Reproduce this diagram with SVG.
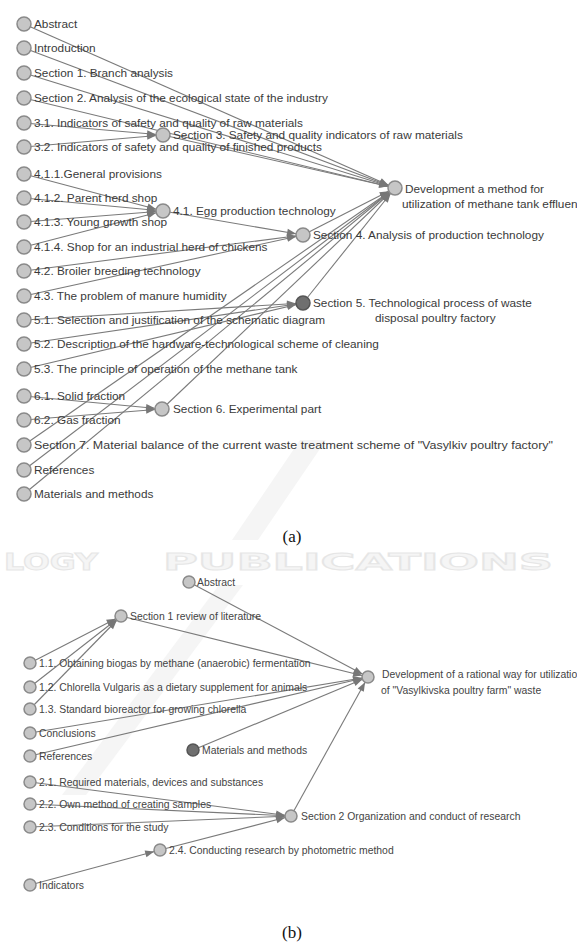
<svg xmlns="http://www.w3.org/2000/svg" width="577" height="942" viewBox="0 0 577 942">
<style>
.e{stroke:#7a7a7a;stroke-width:1.1;fill:none}
.ea{marker-end:url(#arrA)}
.eb{marker-end:url(#arrB)}
.n{fill:#c6c6c6;stroke:#8a8a8a;stroke-width:1.5}
.nd{fill:#6f6f6f;stroke:#555;stroke-width:1.5}
.ta{font-family:"Liberation Sans",Arial,sans-serif;font-size:11.8px;fill:#3a3a3a}
.tb{font-family:"Liberation Sans",Arial,sans-serif;font-size:10.4px;fill:#444}
.cap{font-family:"Liberation Serif","Times New Roman",serif;font-size:17px;fill:#111}
.wm{font-family:"DejaVu Sans",sans-serif;font-weight:bold;fill:#f5f5f5;stroke:#e6e6e6;stroke-width:1}
</style>
<defs>
<marker id="arrA" markerUnits="userSpaceOnUse" markerWidth="20" markerHeight="10" refX="16" refY="3.5" orient="auto" overflow="visible"><path d="M0,0 L9,3.5 L0,7 z" fill="#777"/></marker>
<marker id="arrB" markerUnits="userSpaceOnUse" markerWidth="20" markerHeight="10" refX="15" refY="3.5" orient="auto" overflow="visible"><path d="M0,0 L9,3.5 L0,7 z" fill="#777"/></marker>
</defs>
<rect width="577" height="942" fill="#fff"/>
<g id="watermark">
<polygon points="232,540 258,540 326,440 300,440" fill="#f5f5f5"/>
<polygon points="62,795 86,795 243,585 219,585" fill="#f5f5f5"/>
<text class="wm" x="4" y="570" font-size="23" textLength="94" lengthAdjust="spacingAndGlyphs">LOGY</text>
<text class="wm" x="163" y="570" font-size="23" textLength="390" lengthAdjust="spacingAndGlyphs">PUBLICATIONS</text>
</g>
<g id="connectors">
<line class="e ea" x1="24" y1="24" x2="395" y2="188"/>
<line class="e ea" x1="24" y1="48" x2="395" y2="188"/>
<line class="e ea" x1="24" y1="73" x2="395" y2="188"/>
<line class="e ea" x1="24" y1="98" x2="395" y2="188"/>
<line class="e ea" x1="24" y1="123" x2="163" y2="135"/>
<line class="e ea" x1="24" y1="147" x2="163" y2="135"/>
<line class="e ea" x1="163" y1="135" x2="395" y2="188"/>
<line class="e ea" x1="24" y1="174" x2="163" y2="211"/>
<line class="e ea" x1="24" y1="198" x2="163" y2="211"/>
<line class="e ea" x1="24" y1="222" x2="163" y2="211"/>
<line class="e ea" x1="24" y1="247" x2="163" y2="211"/>
<line class="e ea" x1="163" y1="211" x2="303" y2="235"/>
<line class="e ea" x1="24" y1="271" x2="303" y2="235"/>
<line class="e ea" x1="24" y1="296" x2="303" y2="235"/>
<line class="e ea" x1="303" y1="235" x2="395" y2="188"/>
<line class="e ea" x1="24" y1="320" x2="303" y2="303"/>
<line class="e ea" x1="24" y1="344" x2="303" y2="303"/>
<line class="e ea" x1="24" y1="369" x2="303" y2="303"/>
<line class="e ea" x1="303" y1="303" x2="395" y2="188"/>
<line class="e ea" x1="24" y1="396" x2="162" y2="409"/>
<line class="e ea" x1="24" y1="420" x2="162" y2="409"/>
<line class="e ea" x1="162" y1="409" x2="395" y2="188"/>
<line class="e ea" x1="24" y1="445" x2="395" y2="188"/>
<line class="e ea" x1="24" y1="470" x2="395" y2="188"/>
<line class="e ea" x1="24" y1="494" x2="395" y2="188"/>
<line class="e eb" x1="189" y1="582" x2="368" y2="677"/>
<line class="e eb" x1="121" y1="616" x2="368" y2="677"/>
<line class="e eb" x1="30" y1="663" x2="121" y2="616"/>
<line class="e eb" x1="30" y1="687" x2="121" y2="616"/>
<line class="e eb" x1="30" y1="709" x2="121" y2="616"/>
<line class="e eb" x1="30" y1="733" x2="368" y2="677"/>
<line class="e eb" x1="30" y1="756" x2="368" y2="677"/>
<line class="e eb" x1="193" y1="750" x2="368" y2="677"/>
<line class="e eb" x1="291" y1="816" x2="368" y2="677"/>
<line class="e eb" x1="30" y1="782" x2="291" y2="816"/>
<line class="e eb" x1="30" y1="804" x2="291" y2="816"/>
<line class="e eb" x1="30" y1="827" x2="291" y2="816"/>
<line class="e eb" x1="160" y1="850" x2="291" y2="816"/>
<line class="e eb" x1="30" y1="885" x2="160" y2="850"/>
</g>
<g id="a-abstract"><circle class="n" cx="24" cy="24" r="7"/><text class="ta" x="34" y="28">Abstract</text></g>
<g id="a-introduction"><circle class="n" cx="24" cy="48" r="7"/><text class="ta" x="34" y="52">Introduction</text></g>
<g id="a-s1"><circle class="n" cx="24" cy="73" r="7"/><text class="ta" x="34" y="77">Section 1. Branch analysis</text></g>
<g id="a-s2"><circle class="n" cx="24" cy="98" r="7"/><text class="ta" x="34" y="102">Section 2. Analysis of the ecological state of the industry</text></g>
<g id="a-3-1"><circle class="n" cx="24" cy="123" r="7"/><text class="ta" x="34" y="127">3.1. Indicators of safety and quality of raw materials</text></g>
<g id="a-3-2"><circle class="n" cx="24" cy="147" r="7"/><text class="ta" x="34" y="151">3.2. Indicators of safety and quality of finished products</text></g>
<g id="a-s3"><circle class="n" cx="163" cy="135" r="7"/><text class="ta" x="173" y="139">Section 3. Safety and quality indicators of raw materials</text></g>
<g id="a-4-1-1"><circle class="n" cx="24" cy="174" r="7"/><text class="ta" x="34" y="178">4.1.1.General provisions</text></g>
<g id="a-4-1-2"><circle class="n" cx="24" cy="198" r="7"/><text class="ta" x="34" y="202">4.1.2. Parent herd shop</text></g>
<g id="a-4-1-3"><circle class="n" cx="24" cy="222" r="7"/><text class="ta" x="34" y="226">4.1.3. Young growth shop</text></g>
<g id="a-4-1"><circle class="n" cx="163" cy="211" r="7"/><text class="ta" x="173" y="215">4.1. Egg production technology</text></g>
<g id="a-4-1-4"><circle class="n" cx="24" cy="247" r="7"/><text class="ta" x="34" y="251">4.1.4. Shop for an industrial herd of chickens</text></g>
<g id="a-4-2"><circle class="n" cx="24" cy="271" r="7"/><text class="ta" x="34" y="275">4.2. Broiler breeding technology</text></g>
<g id="a-4-3"><circle class="n" cx="24" cy="296" r="7"/><text class="ta" x="34" y="300">4.3. The problem of manure humidity</text></g>
<g id="a-s4"><circle class="n" cx="303" cy="235" r="7"/><text class="ta" x="313" y="239">Section 4. Analysis of production technology</text></g>
<g id="a-dev"><circle class="n" cx="395" cy="188" r="7"/><text class="ta" x="405" y="193">Development  a method for</text><text class="ta" x="402" y="208">utilization of methane tank effluent</text></g>
<g id="a-5-1"><circle class="n" cx="24" cy="320" r="7"/><text class="ta" x="34" y="324">5.1. Selection and justification of the schematic diagram</text></g>
<g id="a-5-2"><circle class="n" cx="24" cy="344" r="7"/><text class="ta" x="34" y="348">5.2. Description of the hardware-technological scheme of cleaning</text></g>
<g id="a-5-3"><circle class="n" cx="24" cy="369" r="7"/><text class="ta" x="34" y="373">5.3. The principle of operation of the methane tank</text></g>
<g id="a-s5"><circle class="nd" cx="303" cy="303" r="7"/><text class="ta" x="313" y="307">Section 5. Technological process of waste</text><text class="ta" x="375" y="322">disposal poultry factory</text></g>
<g id="a-6-1"><circle class="n" cx="24" cy="396" r="7"/><text class="ta" x="34" y="400">6.1. Solid fraction</text></g>
<g id="a-s6"><circle class="n" cx="162" cy="409" r="7"/><text class="ta" x="173" y="413">Section 6. Experimental part</text></g>
<g id="a-6-2"><circle class="n" cx="24" cy="420" r="7"/><text class="ta" x="34" y="424">6.2. Gas fraction</text></g>
<g id="a-s7"><circle class="n" cx="24" cy="445" r="7"/><text class="ta" x="34" y="449" textLength="519" lengthAdjust="spacingAndGlyphs">Section 7. Material balance of the current waste treatment scheme of "Vasylkiv poultry factory"</text></g>
<g id="a-references"><circle class="n" cx="24" cy="470" r="7"/><text class="ta" x="34" y="474">References</text></g>
<g id="a-materials"><circle class="n" cx="24" cy="494" r="7"/><text class="ta" x="34" y="498">Materials and methods</text></g>
<text class="cap" x="292" y="542" text-anchor="middle">(a)</text>
<g id="b-abstract"><circle class="n" cx="189" cy="582" r="6"/><text class="tb" x="197" y="586">Abstract</text></g>
<g id="b-s1"><circle class="n" cx="121" cy="616" r="6"/><text class="tb" x="130" y="620">Section 1 review of literature</text></g>
<g id="b-1-1"><circle class="n" cx="30" cy="663" r="6"/><text class="tb" x="39" y="667">1.1. Obtaining biogas by methane (anaerobic) fermentation</text></g>
<g id="b-dev"><circle class="n" cx="368" cy="677" r="6"/><text class="tb" x="382" y="678">Development of a rational way for utilization</text><text class="tb" x="381" y="694">of  "Vasylkivska poultry farm" waste</text></g>
<g id="b-1-2"><circle class="n" cx="30" cy="687" r="6"/><text class="tb" x="39" y="691">1.2. Chlorella Vulgaris as a dietary supplement for animals</text></g>
<g id="b-1-3"><circle class="n" cx="30" cy="709" r="6"/><text class="tb" x="39" y="713">1.3. Standard bioreactor for growing chlorella</text></g>
<g id="b-conclusions"><circle class="n" cx="30" cy="733" r="6"/><text class="tb" x="39" y="737">Conclusions</text></g>
<g id="b-materials"><circle class="nd" cx="193" cy="750" r="6"/><text class="tb" x="202" y="754">Materials and methods</text></g>
<g id="b-references"><circle class="n" cx="30" cy="756" r="6"/><text class="tb" x="39" y="760">References</text></g>
<g id="b-2-1"><circle class="n" cx="30" cy="782" r="6"/><text class="tb" x="39" y="786">2.1. Required materials, devices and substances</text></g>
<g id="b-2-2"><circle class="n" cx="30" cy="804" r="6"/><text class="tb" x="39" y="808">2.2. Own method of creating samples</text></g>
<g id="b-s2"><circle class="n" cx="291" cy="816" r="6"/><text class="tb" x="301" y="820">Section 2 Organization and conduct of research</text></g>
<g id="b-2-3"><circle class="n" cx="30" cy="827" r="6"/><text class="tb" x="39" y="831">2.3. Conditions for the study</text></g>
<g id="b-2-4"><circle class="n" cx="160" cy="850" r="6"/><text class="tb" x="169" y="854">2.4. Conducting research by photometric method</text></g>
<g id="b-indicators"><circle class="n" cx="30" cy="885" r="6"/><text class="tb" x="39" y="889">Indicators</text></g>
<text class="cap" x="292" y="938" text-anchor="middle">(b)</text>
</svg>
